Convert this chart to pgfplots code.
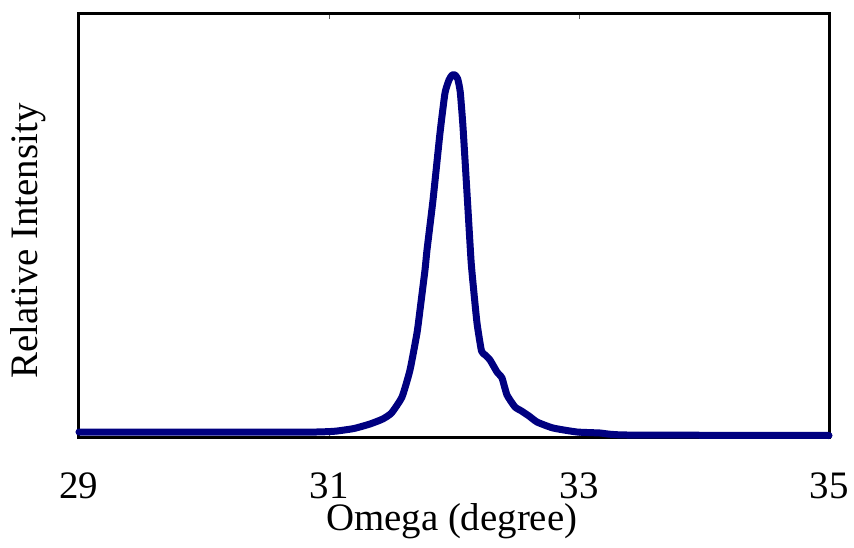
\documentclass[border=0pt]{standalone}
\usepackage{pgfplots}
\pgfplotsset{compat=1.18}
\usepackage{fontspec}
\setmainfont{Liberation Serif}
\definecolor{navyline}{HTML}{000080}

\begin{document}
\fontsize{39}{46}\selectfont
\begin{tikzpicture}
\useasboundingbox (-79bp,-111bp) rectangle (775bp,437bp);
\begin{axis}[at={(0,0)},anchor=south west,
 scale only axis,width=750bp,height=423bp,
 xmin=29,xmax=35,ymin=0,ymax=423,
 xtick={29,31,33,35},ytick=\empty,
 line width=3bp,
 tick align=inside,major tick length=5bp,
 tick style={gray!70!black,line width=0.8bp},
 /pgf/number format/assume math mode=true,
 xticklabel style={anchor=north,inner sep=0pt,yshift=-34bp},
 xlabel={Omega (degree)},ylabel={Relative Intensity},
 xlabel style={at={(axis description cs:0.497,-0.199)},anchor=center},
 ylabel style={at={(axis description cs:-0.068,0.463)},anchor=center},
 clip=false]
\addplot[navyline,line width=7bp,line join=round,line cap=round,smooth,tension=0.3] coordinates {
(29,5) (30.5,5) (30.9,5) (31.05,5.8) (31.2,8.5) (31.328,13) (31.43,18) (31.5,24) (31.584,40)
(31.648,67) (31.704,104) (31.728,127) (31.768,167) (31.784,187) (31.832,237)
(31.888,304) (31.928,344) (31.96,357) (31.985,362) (32.008,362) (32.03,358) (32.05,345) (32.072,310)
(32.104,244) (32.136,177) (32.152,154) (32.184,114) (32.22,86) (32.25,82) (32.288,77)
(32.344,65) (32.384,59) (32.424,42) (32.488,30) (32.54,26) (32.6,21) (32.664,15)
(32.792,9) (32.984,5) (33.168,4) (33.384,2) (35,1.5)};
\end{axis}
\end{tikzpicture}
\end{document}
